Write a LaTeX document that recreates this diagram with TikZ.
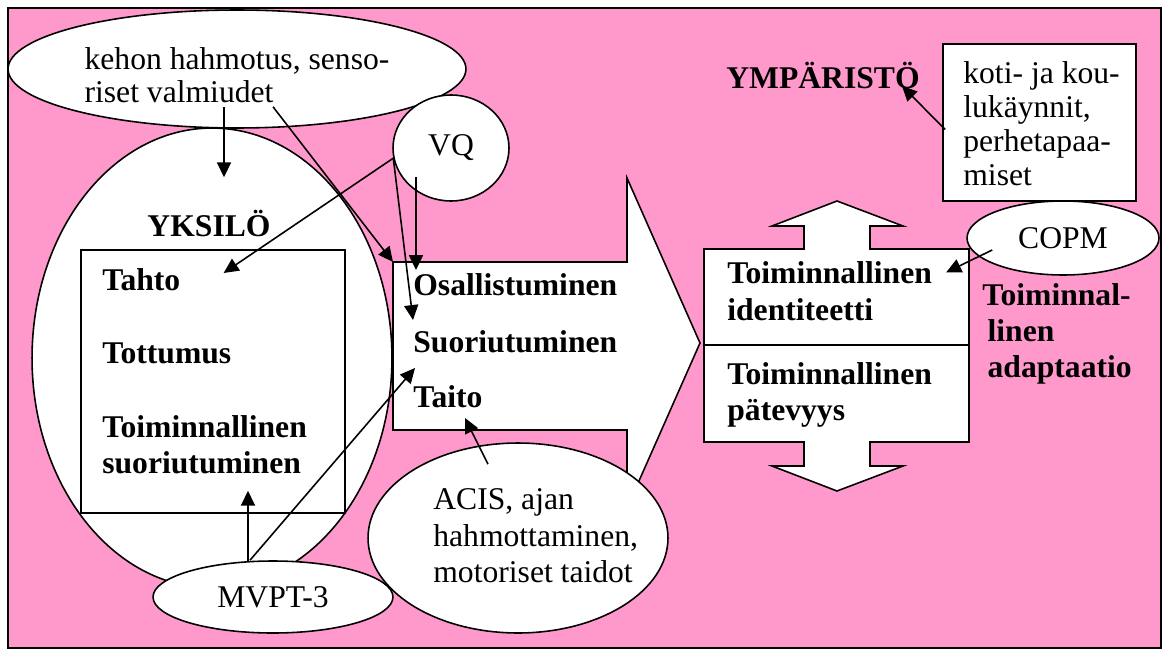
\documentclass[tikz,border=0pt]{standalone}
\usepackage{fontspec}
\setmainfont{Liberation Serif}
\usetikzlibrary{shapes.geometric, arrows.meta, positioning, calc}
\definecolor{bgpink}{RGB}{255,153,204}
\tikzset{
  bubble/.style={
    draw, ellipse, fill=white, inner sep=0pt, line width=0.9pt,
    font=\fontsize{18}{20.7}\selectfont
  },
  framebox/.style={
    draw, rectangle, fill=white, inner sep=0pt, line width=0.9pt
  },
  shapeline/.style={
    draw, fill=white, line width=0.9pt, line join=miter
  },
  plaintext/.style={
    font=\fontsize{18}{20.7}\selectfont, align=left, inner sep=0pt
  },
  boldtext/.style={
    font=\fontsize{18}{20.7}\selectfont\bfseries, align=left, inner sep=0pt
  },
  arrow/.style={
    -{Triangle[length=8.5pt, width=8pt]}, line width=0.9pt
  },
}

\begin{document}
\begin{tikzpicture}[x=0.02cm, y=-0.02cm]

  \useasboundingbox (0,0) rectangle (1168,655);

  %%% Background frame %%%
  \draw[fill=bgpink, line width=1.2pt] (8,8) rectangle (1161,648);

  %%% YKSILÖ (left) %%%
  \node[bubble, minimum width=7.2cm, minimum height=9.2cm] (yksilo) at (212,358) {};
  \node[bubble, minimum width=9.16cm, minimum height=2.36cm] (kehon) at (237,69) {};
  \node[plaintext] (kehontxt) at (237,75) {kehon hahmotus, senso-\\[-2pt]riset valmiudet};
  \node[boldtext] (yksilotxt) at (209,223) {YKSILÖ};
  \node[framebox, minimum width=5.28cm, minimum height=5.26cm] (yksrect) at (213,381.5) {};
  \node[boldtext, anchor=west] (tahto) at (102,280) {Tahto};
  \node[boldtext, anchor=west] (tottumus) at (102,353) {Tottumus};
  \node[boldtext, anchor=west] (tsuor) at (102,445) {Toiminnallinen\\suoriutuminen};

  %%% Big arrow (centre) %%%
  \coordinate (shaftnw) at (393,262);
  \draw[shapeline] (shaftnw) -- (627,262) -- (627,178) -- (700,343)
    -- (627,508) -- (627,430) -- (393,430) -- cycle;
  \node[boldtext, anchor=west] (osall) at (413,285) {Osallistuminen};
  \node[boldtext, anchor=west] (suor) at (413,342) {Suoriutuminen};
  \node[boldtext, anchor=west] (taito) at (413,397) {Taito};

  %%% Assessment bubbles %%%
  \node[bubble, minimum width=2.32cm, minimum height=2.12cm] (vq) at (451,148) {VQ};
  \node[bubble, minimum width=6.0cm, minimum height=3.8cm] (acis) at (518,538) {};
  \node[plaintext, anchor=west] (acistxt) at (433,536) {ACIS, ajan\\hahmottaminen,\\motoriset taidot};
  \node[bubble, minimum width=4.8cm, minimum height=1.44cm] (mvpt) at (273,597) {MVPT-3};

  %%% YMPÄRISTÖ (right) %%%
  \draw[shapeline] (704,249) -- (804,249) -- (804,226) -- (772,226) -- (837,201)
    -- (903,226) -- (870,226) -- (870,249) -- (969,249) -- (969,442)
    -- (870,442) -- (870,466) -- (903,466) -- (837,491) -- (772,466)
    -- (804,466) -- (804,442) -- (704,442) -- cycle;
  \draw[line width=0.9pt] (704,345) -- (969,345);
  \node[boldtext, anchor=west] (ident) at (727,291) {Toiminnallinen\\identiteetti};
  \node[boldtext, anchor=west] (pate) at (727,395) {Toiminnallinen\\pätevyys};
  \node[boldtext] (ymp) at (823,75) {YMPÄRISTÖ};
  \node[framebox, minimum width=3.86cm, minimum height=3.14cm] (koti) at (1039.5,122.5) {};
  \node[plaintext, anchor=west, font=\fontsize{18}{19.3}\selectfont] (kotitxt) at (963,124)
    {koti- ja kou-\\lukäynnit,\\perhetapaa-\\miset};
  \node[bubble, minimum width=3.84cm, minimum height=1.48cm] (copm) at (1063,238) {COPM};
  \node[boldtext, anchor=west] (adapt) at (982,334)
    {Toiminnal-\\\hspace*{3pt}linen\\\hspace*{3pt}adaptaatio};

  %%% Arrows %%%
  \draw[arrow] ($(kehon.south)+(-13,-22)$) -- ($(yksilo.north)+(12,50)$);
  \draw[arrow] ($(kehon.south)+(36,-22)$) -- (shaftnw);
  \draw[arrow] (vq.190) -- ($(tahto.east)+(43,-7)$);
  \draw[arrow] (vq.190) -- ($(suor.west)+(0,-22)$);
  \draw[arrow] ($(vq.center)+(-35,29)$) -- ($(osall.west)+(3,-15)$);
  \draw[arrow] ($(mvpt.north)+(-25,1)$) -- ($(yksrect.south)+(35,-23)$);
  \draw[arrow] ($(mvpt.north)+(-23,0)$) -- ($(suor.west)+(2,26)$);
  \draw[arrow] ($(acis.north)+(-30,22)$) -- ($(taito.west)+(52,21)$);
  \draw[arrow] ($(koti.west)+(3,7)$) -- ($(ymp.east)+(-18,11)$);
  \draw[arrow] ($(copm.west)+(26,12)$) -- ($(ident.north east)+(14,11)$);

\end{tikzpicture}
\end{document}
